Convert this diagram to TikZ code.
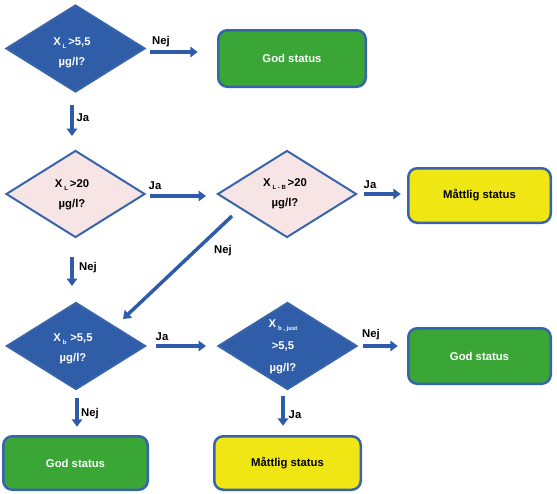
\documentclass[tikz,border=0pt]{standalone}
\usepackage{fontspec}
\setmainfont{Liberation Sans}
\usetikzlibrary{shapes.geometric,arrows.meta,calc}
\definecolor{dblue}{RGB}{47,93,168}
\definecolor{bblue}{RGB}{56,100,172}
\definecolor{ablue}{RGB}{46,92,170}
\definecolor{gfill}{RGB}{58,166,54}
\definecolor{yfill}{RGB}{240,230,20}
\definecolor{pfill}{RGB}{247,229,229}
\newcommand\subtx[1]{\raisebox{-3pt}{\fontsize{6}{7}\selectfont #1}}
\begin{document}
\begin{tikzpicture}[x=1pt,y=-1pt,
  every node/.style={font=\fontsize{11.3}{13}\selectfont\bfseries},
  dec/.style={diamond, aspect=1.58, minimum width=139pt, minimum height=87pt, inner sep=0pt, line width=2pt, draw=bblue},
  decblue/.style={dec, fill=dblue},
  decpink/.style={dec, fill=pfill},
  dtext/.style={align=center, font=\fontsize{11.3}{20}\selectfont\bfseries, inner sep=0pt},
  box/.style={rectangle, rounded corners=9pt, line width=2.5pt, draw=bblue, align=center},
  gbox/.style={box, fill=gfill, text=white},
  ybox/.style={box, fill=yfill, text=black},
  arr/.style={line width=3.5pt, draw=ablue, -{Triangle[width=10.5pt,length=7.5pt]}},
  lab/.style={text=black, inner sep=0pt}
]
\useasboundingbox (0,0) rectangle (557,493);

% diamonds
\node[decblue] (d1) at (75.5,48.5) {};
\node[decpink] (d2) at (75.5,194) {};
\node[decpink] (d3) at (287,194) {};
\node[decblue] (d4) at (76,346) {};
\node[decblue] (d5) at (287.5,346) {};

% diamond texts
\node[dtext, text=white] (t1) at (72,53) {X\,\subtx{L}\,>5,5\\µg/l?};
\node[dtext, text=black] (t2) at (72,194.5) {X\,\subtx{L}\,>20\\µg/l?};
\node[dtext, text=black] (t3) at (285,194) {X\,\subtx{L - B}\,>20\\µg/l?};
\node[dtext, text=white] (t4) at (73,348.5) {X\,\subtx{b}\,\,>5,5\\µg/l?};
\node[dtext, text=white, font=\fontsize{11.3}{22}\selectfont\bfseries] (t5) at (283,347) {X\,\subtx{b , just}\\>5,5\\µg/l?};

% boxes
\node[gbox, minimum width=147.5pt, minimum height=56.5pt] (g1) at (292,58.5) {God status};
\node[ybox, minimum width=142.5pt, minimum height=54.5pt] (m1) at (479.5,195.5) {Måttlig status};
\node[gbox, minimum width=142.5pt, minimum height=55.5pt] (g3) at (479.5,356) {God status};
\node[gbox, minimum width=144.5pt, minimum height=53.5pt] (g2) at (75.5,463) {God status};
\node[ybox, minimum width=146.5pt, minimum height=53.5pt] (m2) at (287.5,463) {Måttlig status};

% arrows
\draw[arr] ($(d1.east)+(4,3.5)$) -- ($(g1.west)+(-19.25,-6.5)$);
\draw[arr] ($(d1.south)+(-3.5,12)$) -- ($(d2.north)+(-3.5,-13.5)$);
\draw[arr] ($(d2.east)+(4,2)$) -- ($(d3.west)+(-10.5,2)$);
\draw[arr] ($(d3.east)+(6.5,0)$) -- ($(m1.west)+(-6.25,-1.5)$);
\draw[arr] ($(d3.west)+(15.5,22)$) -- ($(d4.north)+(47,17.5)$);
\draw[arr] ($(d2.south)+(-3.5,18.5)$) -- ($(d4.north)+(-4,-15.5)$);
\draw[arr] ($(d4.east)+(9.5,0)$) -- ($(d5.west)+(-11,0)$);
\draw[arr] ($(d5.east)+(5,0)$) -- ($(g3.west)+(-9.25,-10)$);
\draw[arr] ($(d4.south)+(1,7.5)$) -- ($(g2.north)+(1.5,-8.25)$);
\draw[arr] ($(d5.south)+(-4.5,5.5)$) -- ($(m2.north)+(-4.5,-9.25)$);

% labels
\node[lab] (l1) at (161,42) {Nej};
\node[lab] (l2) at (83,118) {Ja};
\node[lab] (l3) at (155,186) {Ja};
\node[lab] (l4) at (88,268) {Nej};
\node[lab] (l5) at (223,251) {Nej};
\node[lab] (l6) at (370,185) {Ja};
\node[lab] (l7) at (162,337) {Ja};
\node[lab] (l8) at (90,414) {Nej};
\node[lab] (l9) at (371,335) {Nej};
\node[lab] (l10) at (295,415) {Ja};
\end{tikzpicture}
\end{document}
